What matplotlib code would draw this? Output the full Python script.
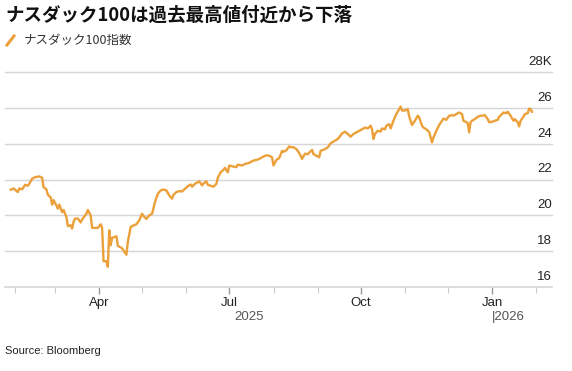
import matplotlib
matplotlib.use("Agg")
import matplotlib.pyplot as plt
import matplotlib.dates as mdates
import matplotlib.transforms as mtransforms
import pandas as pd
from matplotlib.lines import Line2D

# ナスダック100指数 (thousands)
dates = [
    "2025-01-29", "2025-01-31", "2025-02-03", "2025-02-04", "2025-02-06", "2025-02-08",
    "2025-02-10", "2025-02-11", "2025-02-13", "2025-02-15", "2025-02-18", "2025-02-20",
    "2025-02-21", "2025-02-23", "2025-02-24", "2025-02-26", "2025-02-27", "2025-02-28",
    "2025-03-02", "2025-03-03", "2025-03-04", "2025-03-06", "2025-03-07", "2025-03-09",
    "2025-03-10", "2025-03-12", "2025-03-13", "2025-03-14", "2025-03-15", "2025-03-17",
    "2025-03-19", "2025-03-20", "2025-03-23", "2025-03-24", "2025-03-26", "2025-03-27",
    "2025-03-31", "2025-04-01", "2025-04-02", "2025-04-03", "2025-04-04", "2025-04-06",
    "2025-04-07", "2025-04-08", "2025-04-09", "2025-04-10", "2025-04-13", "2025-04-14",
    "2025-04-17", "2025-04-20", "2025-04-21", "2025-04-23", "2025-04-25", "2025-04-27",
    "2025-04-29", "2025-05-01", "2025-05-02", "2025-05-04", "2025-05-06", "2025-05-08",
    "2025-05-10", "2025-05-12", "2025-05-14", "2025-05-16", "2025-05-18", "2025-05-20",
    "2025-05-22", "2025-05-23", "2025-05-25", "2025-05-27", "2025-05-29", "2025-05-31",
    "2025-06-02", "2025-06-04", "2025-06-05", "2025-06-07", "2025-06-09", "2025-06-10",
    "2025-06-12", "2025-06-13", "2025-06-15", "2025-06-16", "2025-06-20", "2025-06-22",
    "2025-06-23", "2025-06-25", "2025-06-27", "2025-06-28", "2025-06-30", "2025-07-01",
    "2025-07-04", "2025-07-06", "2025-07-07", "2025-07-10", "2025-07-12", "2025-07-15",
    "2025-07-18", "2025-07-20", "2025-07-22", "2025-07-25", "2025-07-27", "2025-07-29",
    "2025-07-31", "2025-08-01", "2025-08-03", "2025-08-05", "2025-08-07", "2025-08-08",
    "2025-08-10", "2025-08-12", "2025-08-13", "2025-08-15", "2025-08-17", "2025-08-18",
    "2025-08-20", "2025-08-21", "2025-08-23", "2025-08-25", "2025-08-26", "2025-08-28",
    "2025-08-29", "2025-08-31", "2025-09-02", "2025-09-03", "2025-09-06", "2025-09-08",
    "2025-09-10", "2025-09-13", "2025-09-14", "2025-09-16", "2025-09-18", "2025-09-20",
    "2025-09-22", "2025-09-24", "2025-09-26", "2025-09-28", "2025-10-01", "2025-10-02",
    "2025-10-04", "2025-10-06", "2025-10-08", "2025-10-09", "2025-10-10", "2025-10-11",
    "2025-10-13", "2025-10-15", "2025-10-16", "2025-10-18", "2025-10-19", "2025-10-21",
    "2025-10-22", "2025-10-24", "2025-10-26", "2025-10-28", "2025-10-29", "2025-10-30",
    "2025-11-01", "2025-11-03", "2025-11-04", "2025-11-05", "2025-11-06", "2025-11-08",
    "2025-11-10", "2025-11-11", "2025-11-13", "2025-11-14", "2025-11-16", "2025-11-18",
    "2025-11-19", "2025-11-20", "2025-11-21", "2025-11-23", "2025-11-25", "2025-11-27",
    "2025-11-28", "2025-11-30", "2025-12-02", "2025-12-04", "2025-12-05", "2025-12-07",
    "2025-12-09", "2025-12-11", "2025-12-12", "2025-12-14", "2025-12-15", "2025-12-16",
    "2025-12-17", "2025-12-18", "2025-12-20", "2025-12-22", "2025-12-24", "2025-12-25",
    "2025-12-27", "2025-12-29", "2025-12-30", "2026-01-01", "2026-01-03", "2026-01-05",
    "2026-01-06", "2026-01-08", "2026-01-09", "2026-01-11", "2026-01-12", "2026-01-14",
    "2026-01-16", "2026-01-17", "2026-01-19", "2026-01-20", "2026-01-21", "2026-01-23",
    "2026-01-24", "2026-01-26", "2026-01-27", "2026-01-28", "2026-01-29",
]
values = [
    21.43, 21.50, 21.30, 21.50, 21.45, 21.70,
    21.65, 21.76, 22.04, 22.13, 22.17, 22.10,
    21.57, 21.45, 21.15, 21.00, 20.60, 20.85,
    20.55, 20.37, 20.60, 20.18, 20.30, 19.90,
    19.40, 19.45, 19.26, 19.63, 19.82, 19.82,
    19.60, 19.77, 20.09, 20.30, 20.00, 19.30,
    19.30, 19.39, 19.50, 19.30, 17.44, 17.44,
    17.13, 19.17, 18.33, 18.74, 18.83, 18.30,
    18.16, 17.80, 18.52, 19.35, 19.44, 19.50,
    19.72, 20.09, 19.96, 19.80, 20.00, 20.09,
    20.74, 21.20, 21.39, 21.44, 21.39, 21.11,
    20.93, 21.15, 21.30, 21.35, 21.33, 21.48,
    21.63, 21.72, 21.60, 21.76, 21.85, 21.90,
    21.67, 21.78, 21.90, 21.70, 21.60, 21.76,
    22.09, 22.40, 22.54, 22.65, 22.40, 22.78,
    22.72, 22.69, 22.83, 22.78, 22.87, 22.93,
    23.06, 23.09, 23.15, 23.28, 23.35, 23.33,
    23.24, 22.78, 23.09, 23.20, 23.60, 23.55,
    23.63, 23.85, 23.80, 23.80, 23.70, 23.60,
    23.33, 23.15, 23.44, 23.41, 23.50, 23.65,
    23.41, 23.33, 23.24, 23.60, 23.69, 23.80,
    24.02, 24.17, 24.20, 24.35, 24.57, 24.67,
    24.54, 24.39, 24.54, 24.63, 24.76, 24.80,
    24.90, 24.85, 25.00, 24.80, 24.26, 24.54,
    24.72, 24.67, 24.85, 24.80, 25.00, 25.09,
    24.85, 25.28, 25.65, 25.93, 26.07, 25.85,
    25.85, 25.93, 25.52, 25.28, 25.04, 25.28,
    25.56, 25.46, 25.00, 24.90, 24.80, 24.65,
    24.35, 24.07, 24.35, 24.72, 25.04, 25.28,
    25.40, 25.33, 25.56, 25.59, 25.56, 25.65,
    25.74, 25.65, 25.28, 25.20, 25.15, 24.63,
    25.20, 25.28, 25.37, 25.50, 25.56, 25.56,
    25.59, 25.37, 25.20, 25.22, 25.28, 25.33,
    25.50, 25.65, 25.74, 25.70, 25.78, 25.56,
    25.28, 25.37, 25.19, 24.96, 25.28, 25.50,
    25.65, 25.70, 25.96, 25.93, 25.78,
]
y_ticks = [16, 18, 20, 22, 24, 26, 28]
y_labels = ["16", "18", "20", "22", "24", "26", "28K"]

title = "ナスダック100は過去最高値付近から下落"
legend_label = "ナスダック100指数"
source = "Source: Bloomberg"

orange = "#eba03a"
grid_c = "#d6d6d6"
jp = ["Noto Sans CJK JP", "DejaVu Sans"]
latin = ["Liberation Sans", "DejaVu Sans"]

x = pd.to_datetime(dates)

fig = plt.figure(figsize=(5.72, 3.71), dpi=100)
ax = fig.add_axes([5 / 572, 84 / 371, 547 / 572, 215 / 371])

ax.plot(x, values, color=orange, lw=1.7, solid_joinstyle="round", zorder=3)

ax.set_xlim(pd.Timestamp("2025-01-25"), pd.Timestamp("2026-02-12"))
ax.set_ylim(16, 28)

for s in ["top", "right", "left"]:
    ax.spines[s].set_visible(False)
ax.spines["bottom"].set_color(grid_c)
ax.spines["bottom"].set_linewidth(1.2)

# horizontal grid
ax.set_yticks(y_ticks)
ax.set_yticklabels([])
ax.tick_params(axis="y", length=0)
for v in y_ticks[1:]:
    ax.axhline(v, color=grid_c, lw=1, zorder=1, clip_on=False)

# y labels sit above their gridline at the right edge
trans = mtransforms.blended_transform_factory(ax.transAxes, ax.transData)
off = mtransforms.offset_copy(trans, fig=fig, x=0, y=3, units="points")
for v, lab in zip(y_ticks, y_labels):
    ax.text(1.0, v, lab, transform=off, ha="right", va="bottom",
            fontsize=9.5, family=latin, color="#222222")

# x axis: months as minor ticks, quarter labels
ax.xaxis.set_major_locator(mdates.MonthLocator(bymonth=[1, 4, 7, 10]))
ax.xaxis.set_major_formatter(mdates.DateFormatter("%b"))
ax.xaxis.set_minor_locator(mdates.MonthLocator())
ax.tick_params(axis="x", which="major", length=5, width=1, color="#999999",
               labelsize=9.5, pad=2, labelcolor="#222222")
ax.tick_params(axis="x", which="minor", length=4, width=0.8, color="#cccccc")
for t in ax.get_xticklabels():
    t.set_fontfamily(latin)

# year labels
xt = mtransforms.blended_transform_factory(ax.transData, fig.transFigure)
ax.text(pd.Timestamp("2025-07-15"), 1 - 317 / 371, "2025", transform=xt,
        ha="center", va="center", fontsize=9.5, family=latin, color="#555555")
ax.text(pd.Timestamp("2026-01-01"), 1 - 317 / 371, "|2026", transform=xt,
        ha="left", va="center", fontsize=9.5, family=latin, color="#555555",
        clip_on=False)

# title, legend, source
fig.text(5 / 572, 1 - 15 / 371, title, fontsize=13.3, fontweight="bold",
         family=jp, ha="left", va="center", color="#111111")
fig.add_artist(Line2D([7 / 572, 14 / 572], [1 - 45 / 371, 1 - 36 / 371],
                      color=orange, lw=2.2, transform=fig.transFigure))
fig.text(24 / 572, 1 - 40 / 371, legend_label, fontsize=9, family=jp,
         ha="left", va="center", color="#333333")
fig.text(5 / 572, 1 - 351 / 371, source, fontsize=8, family=latin,
         ha="left", va="center", color="#222222")

fig.savefig("out.png", dpi=100)
